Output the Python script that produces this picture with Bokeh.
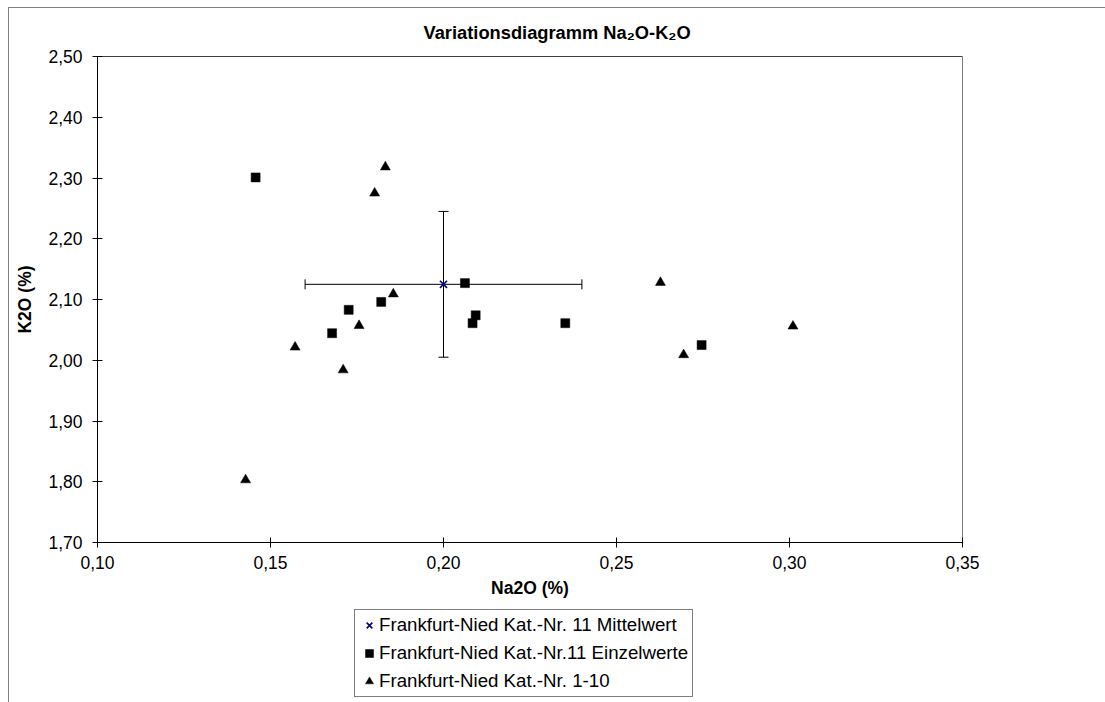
from bokeh.plotting import figure
from bokeh.layouts import column
from bokeh.models import (Range1d, FixedTicker, Legend, LegendItem, Whisker, TeeHead,
                          ColumnDataSource, Span, Title)
from bokeh.embed import file_html
from bokeh.resources import INLINE

# Mittelwert Kat.-Nr. 11 mit Standardabweichung
mean_na2o = [0.20]
mean_k2o = [2.125]
mean_na2o_sd = [0.04]
mean_k2o_sd = [0.12]

# Einzelwerte Kat.-Nr. 11
nr11_na2o = [0.1457, 0.1678, 0.1726, 0.1820, 0.2062, 0.2084, 0.2093, 0.2352, 0.2746]
nr11_k2o = [2.301, 2.0445, 2.083, 2.096, 2.127, 2.061, 2.074, 2.061, 2.025]

# Kat.-Nr. 1-10
nr1_10_na2o = [0.1428, 0.1571, 0.1710, 0.1756, 0.1801, 0.1832, 0.1855, 0.2627, 0.2694, 0.3010]
nr1_10_k2o = [1.803, 2.0215, 1.984, 2.057, 2.275, 2.318, 2.109, 2.128, 2.009, 2.056]

x_ticks = [0.10, 0.15, 0.20, 0.25, 0.30, 0.35]
x_tick_labels = ["0,10", "0,15", "0,20", "0,25", "0,30", "0,35"]
y_ticks = [1.70, 1.80, 1.90, 2.00, 2.10, 2.20, 2.30, 2.40, 2.50]
y_tick_labels = ["1,70", "1,80", "1,90", "2,00", "2,10", "2,20", "2,30", "2,40", "2,50"]

title_text = "Variationsdiagramm Na\u2082O-K\u2082O"
x_title = "Na2O (%)"
y_title = "K2O (%)"
series_names = ["Frankfurt-Nied Kat.-Nr. 11 Mittelwert",
                "Frankfurt-Nied Kat.-Nr.11 Einzelwerte",
                "Frankfurt-Nied Kat.-Nr. 1-10"]

FONT = "Liberation Sans"

# marker styles shared by the plot and its legend
MEAN_STYLE = dict(marker="x", size=10, line_color="#000080", line_width=1.6)
SQ_STYLE = dict(marker="square", size=9, fill_color="black", line_color="black", line_width=0.5)
TRI_STYLE = dict(marker="triangle", size=10, fill_color="black", line_color="black", line_width=0.5)

# ---- scatter plot -------------------------------------------------------
p = figure(width=1096, height=597, output_backend="svg", toolbar_location=None,
           x_range=Range1d(0.10, 0.35), y_range=Range1d(1.70, 2.50),
           min_border_left=88, min_border_right=143, min_border_top=48, min_border_bottom=63,
           background_fill_color="white", border_fill_color="white")
p.grid.visible = False
p.outline_line_color = "#808080"
p.outline_line_width = 1

p.title = Title(text=title_text, align="left", offset=326, standoff=18, vertical_align="bottom",
                padding=dict(left=0, right=0, top=0, bottom=5),
                text_font=FONT, text_font_size="18.3px", text_font_style="bold",
                text_color="black")

for ax, ticks, labels, name in ((p.xaxis[0], x_ticks, x_tick_labels, x_title),
                                (p.yaxis[0], y_ticks, y_tick_labels, y_title)):
    ax.ticker = FixedTicker(ticks=ticks)
    ax.major_label_overrides = dict(zip(ticks, labels))
    ax.minor_tick_line_color = None
    ax.major_tick_in = 5
    ax.major_tick_out = 5
    ax.axis_line_color = "black"
    ax.major_tick_line_color = "black"
    ax.major_label_text_font = FONT
    ax.major_label_text_font_size = "17.5px"
    ax.major_label_text_color = "black"
    ax.axis_label = name
    ax.axis_label_text_font = FONT
    ax.axis_label_text_font_size = "17.5px"
    ax.axis_label_text_font_style = "bold"
    ax.axis_label_text_color = "black"

p.xaxis.major_label_standoff = 8
p.xaxis.axis_label_standoff = 6
p.yaxis.major_label_standoff = 10
p.yaxis.axis_label_standoff = 10

# dark top edge of the plot area
p.add_layout(Span(location=2.50, dimension="width", line_color="black", line_width=1))

# error bars of the mean
err = ColumnDataSource(dict(x=mean_na2o, y=mean_k2o,
                            xl=[a - b for a, b in zip(mean_na2o, mean_na2o_sd)],
                            xu=[a + b for a, b in zip(mean_na2o, mean_na2o_sd)],
                            yl=[a - b for a, b in zip(mean_k2o, mean_k2o_sd)],
                            yu=[a + b for a, b in zip(mean_k2o, mean_k2o_sd)]))
for base, lo, hi, dim in (("y", "xl", "xu", "width"), ("x", "yl", "yu", "height")):
    p.add_layout(Whisker(source=err, base=base, lower=lo, upper=hi, dimension=dim,
                         line_color="black", line_width=1,
                         lower_head=TeeHead(size=10, line_color="black", line_width=1),
                         upper_head=TeeHead(size=10, line_color="black", line_width=1)))

p.scatter(nr1_10_na2o, nr1_10_k2o, **TRI_STYLE)
p.scatter(nr11_na2o, nr11_k2o, **SQ_STYLE)
p.scatter(mean_na2o, mean_k2o, **MEAN_STYLE)

# ---- legend strip below the plot ---------------------------------------
# the strip has its own renderers for the legend swatches; its y range lies
# far below the K2O values, so the points themselves stay out of view here
pl = figure(width=1096, height=97, output_backend="svg", toolbar_location=None,
            x_range=Range1d(0.10, 0.35), y_range=Range1d(0, 1),
            x_axis_location=None, y_axis_location=None,
            min_border=0, outline_line_color=None,
            background_fill_color="white", border_fill_color="white")
pl.grid.visible = False
l_mean = pl.scatter(mean_na2o, mean_k2o, **MEAN_STYLE)
l_sq = pl.scatter(nr11_na2o, nr11_k2o, **SQ_STYLE)
l_tri = pl.scatter(nr1_10_na2o, nr1_10_k2o, **TRI_STYLE)

legend = Legend(items=[LegendItem(label=series_names[0], renderers=[l_mean]),
                       LegendItem(label=series_names[1], renderers=[l_sq]),
                       LegendItem(label=series_names[2], renderers=[l_tri])],
                location=(257, 5), orientation="vertical",
                border_line_color="black", border_line_width=1,
                background_fill_color="white", background_fill_alpha=1,
                label_text_font=FONT, label_text_font_size="18.7px", label_text_color="black",
                glyph_width=20, glyph_height=22, label_height=22, label_standoff=0,
                spacing=6, padding=4, margin=0)
pl.add_layout(legend, "center")

# chart area with its thin grey left/top edge
page = column(p, pl, spacing=0, margin=(7, 0, 0, 8),
              styles={"border-left": "1px solid #808080", "border-top": "1px solid #808080"})

open("out.html", "w").write(file_html(page, INLINE))
